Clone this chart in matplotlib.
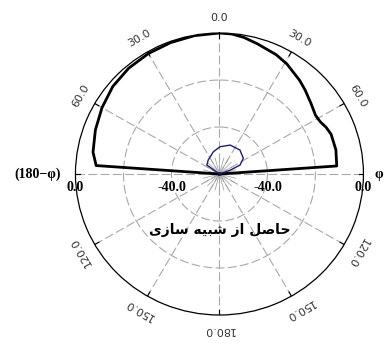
import numpy as np
import matplotlib.pyplot as plt

# main lobe (degrees from broadside, dB)
theta_sim = [-90, -86, -80, -70, -60, -50, -40, -30, -20, -10, 0, 5, 10, 16, 25, 31,
             40, 45, 52, 58, 62, 66, 70, 78, 86, 90]
gain_sim = [-60, -8.5, -6.5, -5.0, -3.5, -2.0, -1.2, -0.8, -0.5, -0.2, 0.0, -0.2, -1.0,
            -2.4, -4.0, -5.4, -8.0, -9.5, -11.5, -12.8, -12.5, -11.3, -10.5, -10.4, -11.0, -60]

# small inner lobe
theta_in = [-90, -54, -38, -15, 1, 20, 40, 56, 66, 70, 90]
gain_in = [-60, -53.5, -52.4, -50.2, -48.4, -46.9, -46.7, -48.0, -50.6, -55.3, -60]

angle_ticks = [-150, -120, -60, -30, 0, 30, 60, 120, 150, 180]
r_ticks = [-40, 0]
r_min, r_max = -60, 0

caption = "\uFEEF\uFEAF\uFE8E\uFEB3 \uFEEA\uFEF4\uFE92\uFEB7 \uFEAF\uFE8D \uFEDE\uFEBB\uFE8E\uFEA3"

fig = plt.figure(figsize=(3.85, 3.49), dpi=100)
ax = fig.add_axes([0.196, 0.0974, 0.748, 0.808], projection='polar')
ax.set_aspect('auto')
ax.set_theta_zero_location('N')
ax.set_theta_direction(-1)
ax.set_ylim(r_min, r_max)
ax.grid(False)
ax.set_xticks([])
ax.set_yticks([])
ax.spines['polar'].set_linewidth(0.9)

grid_col = '#a8a8a8'
ring = np.linspace(0, 2 * np.pi, 361)
for r in [-40, -20]:
    ax.plot(ring, np.full_like(ring, r), color=grid_col, lw=0.8, ls=(0, (8, 3)))
for a in range(0, 360, 30):
    t = np.deg2rad(a)
    ax.plot([t, t], [r_min, r_max], color=grid_col, lw=0.8, ls=(0, (8, 3)))
for a in range(0, 360, 15):
    t = np.deg2rad(a)
    ax.plot([t, t], [r_min, -53], color=grid_col, lw=0.6)
for a in angle_ticks + [-90, 90]:
    t = np.deg2rad(a)
    ax.plot([t, t], [-2, 0], color='black', lw=0.8)

ax.plot(np.deg2rad(theta_sim), gain_sim, color='black', lw=2.0)
ax.plot(np.deg2rad(theta_in), gain_in, color='#1c1c78', lw=1.0)

for a in angle_ticks:
    ax.text(np.deg2rad(a), 6.5, f"{abs(a):.1f}", rotation=-a, rotation_mode='anchor',
            ha='center', va='center', fontsize=8, color='#333333')

bold = dict(family='Liberation Serif', fontweight='bold', fontsize=10)
for r in r_ticks:
    for side in [-90, 90]:
        ax.annotate(f"{r:.1f}", xy=(np.deg2rad(side), r), xytext=(0, -13),
                    textcoords='offset pixels', ha='center', va='center', **bold)
ax.annotate("φ", xy=(np.deg2rad(90), 0), xytext=(11, 0), textcoords='offset pixels',
            ha='left', va='center', **bold)
ax.annotate("(180−φ)", xy=(np.deg2rad(-90), 0), xytext=(-15, 0), textcoords='offset pixels',
            ha='right', va='center', **bold)

ax.text(np.pi, -36.2, caption, ha='center', va='center', fontsize=10,
        fontweight='bold', family='DejaVu Sans')

fig.savefig('out.png', dpi=100)
